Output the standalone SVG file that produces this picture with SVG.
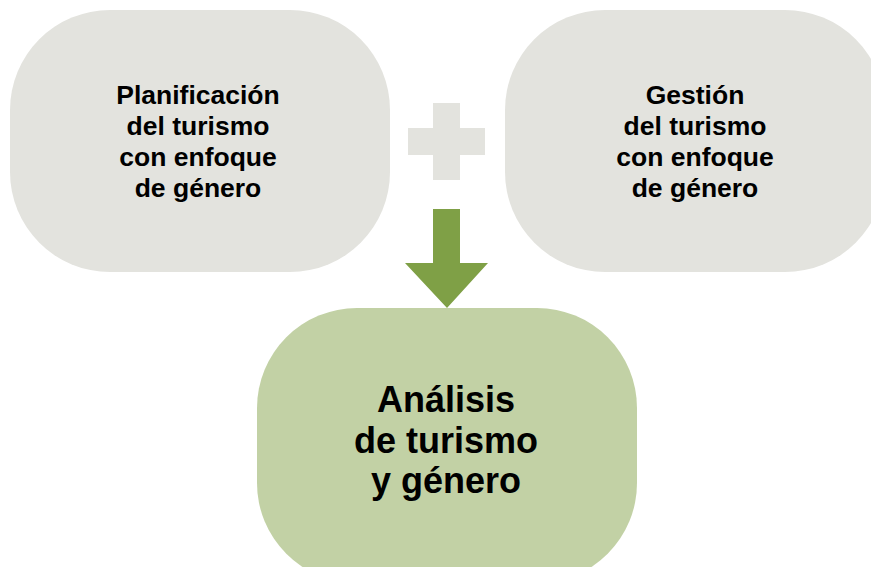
<svg xmlns="http://www.w3.org/2000/svg" width="871" height="567" viewBox="0 0 871 567">
  <style>
    .box-gray { fill: #e3e3de; }
    .box-green { fill: #c2d1a5; }
    .t { font-family: "Liberation Sans", Arial, sans-serif; font-weight: bold; fill: #000; text-anchor: middle; }
    .t-sm { font-size: 26.5px; }
    .t-lg { font-size: 36px; }
  </style>
  <rect width="871" height="567" fill="#ffffff"/>
  <g id="node-planificacion">
    <rect class="box-gray" x="10" y="10" width="380" height="262" rx="100" ry="100"/>
    <text class="t t-sm" x="198" y="104">Planificación</text>
    <text class="t t-sm" x="198" y="135">del turismo</text>
    <text class="t t-sm" x="198" y="166">con enfoque</text>
    <text class="t t-sm" x="198" y="197">de género</text>
  </g>
  <g id="node-gestion">
    <rect class="box-gray" x="505" y="10" width="380" height="262" rx="100" ry="100"/>
    <text class="t t-sm" x="695" y="104">Gestión</text>
    <text class="t t-sm" x="695" y="135">del turismo</text>
    <text class="t t-sm" x="695" y="166">con enfoque</text>
    <text class="t t-sm" x="695" y="197">de género</text>
  </g>
  <g id="node-analisis">
    <rect class="box-green" x="257" y="308" width="380" height="275" rx="100" ry="100"/>
    <text class="t t-lg" x="446" y="412">Análisis</text>
    <text class="t t-lg" x="446" y="453">de turismo</text>
    <text class="t t-lg" x="446" y="493">y género</text>
  </g>
  <g id="connectors">
    <path id="plus" fill="#e3e3de" d="M433 103 H460 V128 H485 V155 H460 V180 H433 V155 H408 V128 H433 Z"/>
    <path id="arrow" fill="#7fa046" d="M433 209 H460 V263 H488 L447 308 L405 263 H433 Z"/>
  </g>
</svg>
